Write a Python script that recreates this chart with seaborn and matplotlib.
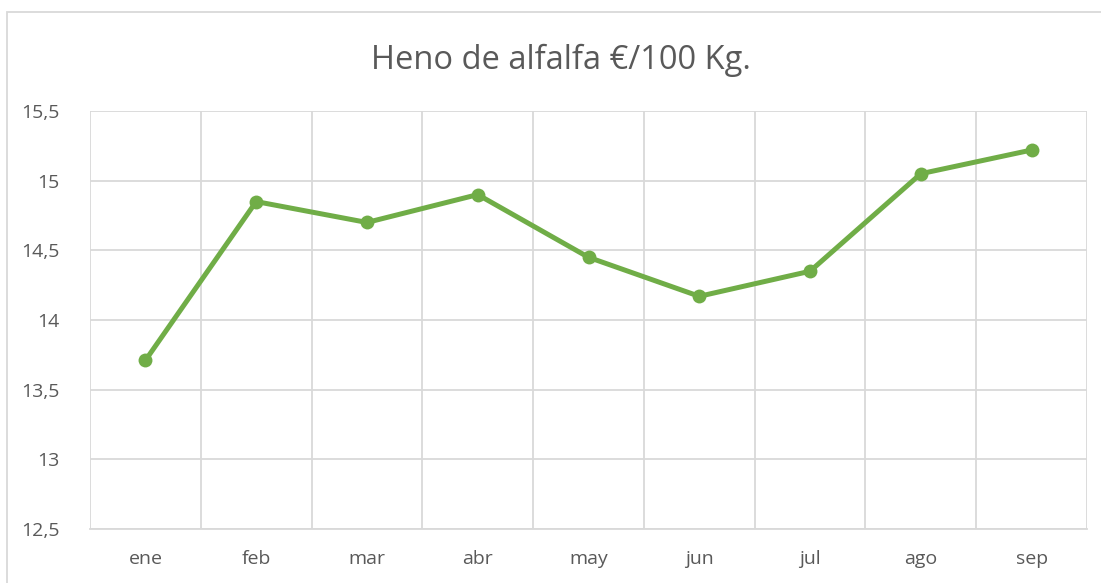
import matplotlib
matplotlib.use("Agg")
import matplotlib.pyplot as plt
from matplotlib.patches import Rectangle
from matplotlib.ticker import FixedLocator, FuncFormatter
import pandas as pd
import seaborn as sns

# Data
months = ["ene", "feb", "mar", "abr", "may", "jun", "jul", "ago", "sep"]
prices = [13.71, 14.85, 14.70, 14.90, 14.45, 14.17, 14.35, 15.05, 15.22]
y_ticks = [12.5, 13, 13.5, 14, 14.5, 15, 15.5]

df = pd.DataFrame({"mes": months, "precio": prices})

sns.set_style("white")
plt.rcParams["font.family"] = ["Open Sans", "DejaVu Sans"]

fig = plt.figure(figsize=(11.01, 5.83), dpi=100)
ax = fig.add_axes([90 / 1101, 1 - 529 / 583, (1087 - 90) / 1101, (529 - 111) / 583])

sns.lineplot(data=df, x="mes", y="precio", ax=ax, color="#70AD47",
             linewidth=3.6, marker="o", markersize=10, markeredgewidth=0,
             sort=False)

ax.set_xlim(-0.5, len(months) - 0.5)
ax.set_ylim(12.5, 15.5)
ax.yaxis.set_major_locator(FixedLocator(y_ticks))
ax.yaxis.set_major_formatter(FuncFormatter(lambda v, p: f"{v:g}".replace(".", ",")))
ax.xaxis.set_minor_locator(FixedLocator([i - 0.5 for i in range(len(months) + 1)]))

ax.grid(axis="y", which="major", color="#D9D9D9", linewidth=1.3)
ax.grid(axis="x", which="minor", color="#D9D9D9", linewidth=1.3)
ax.set_axisbelow(True)
for s in ax.spines.values():
    s.set_visible(False)
ax.spines["bottom"].set_visible(True)
ax.spines["bottom"].set_color("#D9D9D9")
ax.spines["bottom"].set_linewidth(1.3)

ax.tick_params(axis="both", which="both", length=0, labelsize=14,
               colors="#595959")
ax.tick_params(axis="x", pad=15)
ax.tick_params(axis="y", pad=22)
ax.set_xlabel("")
ax.set_ylabel("")

fig.text(561 / 1101, 1 - 60 / 583, "Heno de alfalfa €/100 Kg.", ha="center",
         va="center", fontsize=23.5, color="#595959")

# chart border like the spreadsheet frame
fig.patches.append(Rectangle((7 / 1101, -0.05), 1.2, 1 - 12 / 583 + 0.05,
                             transform=fig.transFigure, fill=False,
                             edgecolor="#D9D9D9", linewidth=1.3))

fig.savefig("out.png", dpi=100)
